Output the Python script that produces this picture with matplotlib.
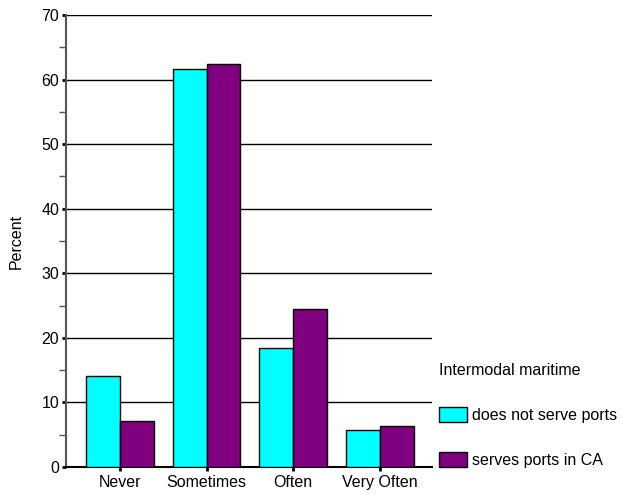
import numpy as np
import matplotlib
matplotlib.use("Agg")
import matplotlib.pyplot as plt
from matplotlib.ticker import MultipleLocator

plt.rcParams['font.family'] = ['Liberation Sans', 'DejaVu Sans']

categories = ['Never', 'Sometimes', 'Often', 'Very Often']
not_serve = [14.1, 61.6, 18.4, 5.7]
serves_ca = [7.1, 62.4, 24.5, 6.4]
series_labels = ['does not serve ports', 'serves ports in CA']
colors = ['#00FFFF', '#800080']
fs = 11.5

fig = plt.figure(figsize=(6.23, 4.95), dpi=100)
ax = fig.add_axes([0.106, 0.0566, 0.587, 0.9131])

x = np.arange(len(categories))
w = 0.39
b1 = ax.bar(x - w / 2, not_serve, w, color=colors[0], edgecolor='black', linewidth=1, zorder=3)
b2 = ax.bar(x + w / 2, serves_ca, w, color=colors[1], edgecolor='black', linewidth=1, zorder=3)

ax.set_xlim(-0.625, 3.6)
ax.set_ylim(0, 70)
ax.yaxis.set_major_locator(MultipleLocator(10))
ax.yaxis.set_minor_locator(MultipleLocator(5))
ax.set_xticks(x)
ax.set_xticklabels(categories, fontsize=fs)
ax.tick_params(axis='y', which='major', length=3, width=2, labelsize=fs, pad=2)
ax.tick_params(axis='y', which='minor', length=5, width=1, color='#555555')
ax.tick_params(axis='x', length=3, width=2, labelsize=fs, pad=3)
ax.yaxis.grid(True, color='black', linewidth=1, zorder=0)
ax.set_axisbelow(True)
for s in ['top', 'right']:
    ax.spines[s].set_visible(False)
ax.spines['left'].set_color('#555555')
ax.spines['left'].set_linewidth(1.5)
ax.spines['bottom'].set_color('black')
ax.spines['bottom'].set_linewidth(1.5)
ax.set_ylabel('Percent', fontsize=fs)
ax.yaxis.set_label_coords(-0.115, 0.5)

leg = fig.legend([b1, b2], series_labels, title='Intermodal maritime',
                 loc='upper left', bbox_to_anchor=(0.695, 0.28), frameon=False,
                 fontsize=fs, title_fontsize=fs, handlelength=1.7, handleheight=1.1,
                 labelspacing=1.8, handletextpad=0.35, borderaxespad=0)
leg._legend_box.align = 'left'
leg._legend_box.sep = 21

fig.savefig('out.png', dpi=100)
